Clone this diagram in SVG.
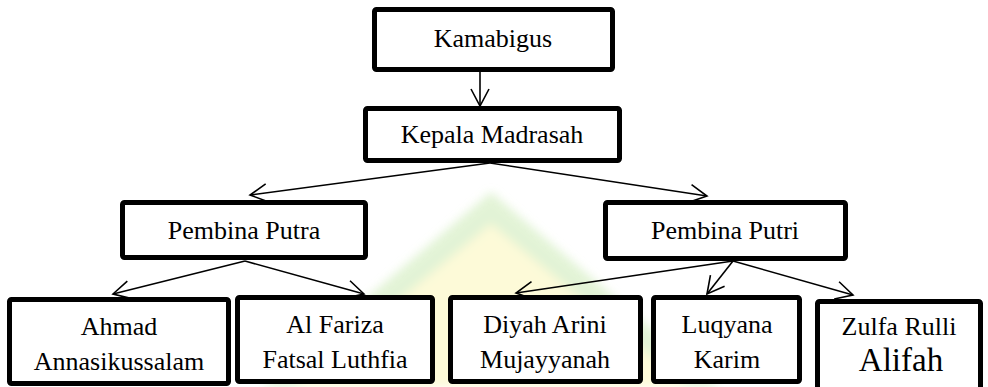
<svg xmlns="http://www.w3.org/2000/svg" width="988" height="387" viewBox="0 0 988 387">
<style>
.box{fill:#ffffff;stroke:#000000;stroke-width:5;}
.lbl{font-family:'Liberation Serif','Times New Roman','DejaVu Serif',serif;font-size:26px;fill:#000000;text-anchor:middle;}
.big{font-size:33px;}
.con{stroke:#000000;stroke-width:1.6;fill:none;marker-end:url(#arr);}
</style>
<defs>
<marker id="arr" markerUnits="userSpaceOnUse" markerWidth="22" markerHeight="22" viewBox="0 0 22 22" refX="19" refY="10" orient="auto">
<path d="M2,1 L19,10 L2,19" fill="none" stroke="#000" stroke-width="1.6"/>
</marker>
<filter id="soft" x="-20%" y="-20%" width="140%" height="140%"><feGaussianBlur stdDeviation="5"/></filter>
</defs>
<rect width="988" height="387" fill="#ffffff"/>
<g id="watermark" filter="url(#soft)" opacity="0.8">
<polygon points="491,222 690,387 292,387" fill="#fdf9cf"/>
<polygon points="491,192 720,387 688,387 491,224 294,387 262,387" fill="#dcf1cc"/>
</g>
<g id="connectors">
<line class="con" x1="480" y1="72" x2="480" y2="106"/>
<line class="con" x1="490" y1="163" x2="250" y2="195"/>
<line class="con" x1="490" y1="163" x2="707" y2="196"/>
<line class="con" x1="245" y1="261" x2="113" y2="294"/>
<line class="con" x1="245" y1="261" x2="364" y2="294"/>
<line class="con" x1="733" y1="261" x2="516" y2="293"/>
<line class="con" x1="733" y1="261" x2="707" y2="294"/>
<line class="con" x1="733" y1="261" x2="853" y2="295"/>
</g>
<g id="kamabigus">
<rect class="box" x="374.5" y="9.5" width="238" height="60" rx="2"/>
<text class="lbl" x="493" y="47" font-family="Liberation Serif, serif">Kamabigus</text>
</g>
<g id="kepala-madrasah">
<rect class="box" x="365.5" y="108.5" width="254" height="52" rx="2"/>
<text class="lbl" x="492" y="143">Kepala Madrasah</text>
</g>
<g id="pembina-putra">
<rect class="box" x="122.5" y="202.5" width="243" height="55" rx="2"/>
<text class="lbl" x="244" y="238.5">Pembina Putra</text>
</g>
<g id="pembina-putri">
<rect class="box" x="605.5" y="202.5" width="240" height="56" rx="2"/>
<text class="lbl" x="725" y="238.5">Pembina Putri</text>
</g>
<g id="ahmad">
<rect class="box" x="9.5" y="299.5" width="219" height="84" rx="2"/>
<text class="lbl" x="119" y="335">Ahmad</text>
<text class="lbl" x="119" y="370">Annasikussalam</text>
</g>
<g id="al-fariza">
<rect class="box" x="237.5" y="297.5" width="195" height="84" rx="2"/>
<text class="lbl" x="335" y="333">Al Fariza</text>
<text class="lbl" x="335" y="367.5">Fatsal Luthfia</text>
</g>
<g id="diyah">
<rect class="box" x="450.5" y="297.5" width="190" height="84" rx="2"/>
<text class="lbl" x="545" y="333">Diyah Arini</text>
<text class="lbl" x="545" y="368">Mujayyanah</text>
</g>
<g id="luqyana">
<rect class="box" x="653.5" y="297.5" width="146" height="84" rx="2"/>
<text class="lbl" x="727" y="333">Luqyana</text>
<text class="lbl" x="727" y="367.5">Karim</text>
</g>
<g id="zulfa">
<rect class="box" x="817.5" y="301.5" width="163" height="92" rx="2"/>
<text class="lbl" x="899" y="335">Zulfa Rulli</text>
<text class="lbl big" x="901" y="371">Alifah</text>
</g>
</svg>
